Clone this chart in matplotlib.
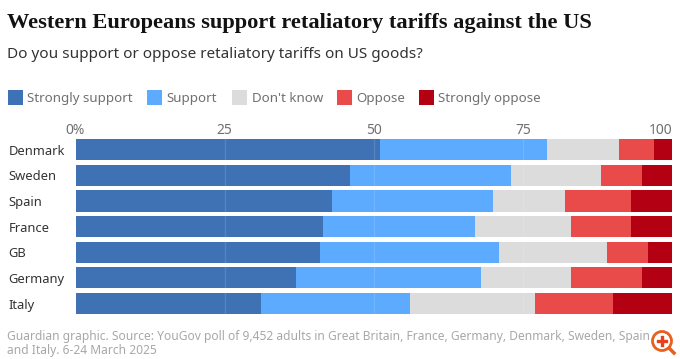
import matplotlib
matplotlib.use("Agg")
import numpy as np
import matplotlib.pyplot as plt
from matplotlib.patches import Rectangle, Ellipse
from matplotlib.lines import Line2D

paises = ["Denmark", "Sweden", "Spain", "France", "GB", "Germany", "Italy"]
strongly_support = [51, 46, 43, 41.5, 41, 37, 31]
support = [28, 27, 27, 25.5, 30, 31, 25]
dont_know = [12, 15, 12, 16, 18, 15, 21]
oppose = [6, 7, 11, 10, 7, 12, 13]
strongly_oppose = [3, 5, 7, 7, 4, 5, 10]

categorias = ["Strongly support", "Support", "Don't know", "Oppose", "Strongly oppose"]
colores = ["#3f72b5", "#5cabff", "#dcdcdc", "#e94b4b", "#b30012"]
ticks = [0, 25, 50, 75, 100]
tick_labels = ["0%", "25", "50", "75", "100"]

W, H = 680, 359
SANS = "Noto Sans"
plt.rcParams["font.family"] = SANS

fig = plt.figure(figsize=(W / 100, H / 100), dpi=100, facecolor="white")

def fx(x):
    return x / W

def fy(y):
    return 1 - y / H

# eje de las barras, ubicado en pixeles
ax = fig.add_axes([fx(75.5), fy(319), (672.3 - 75.5) / W, (319 - 137) / H])
ax.set_xlim(0, 100)
y = np.arange(len(paises))
ax.set_ylim(len(paises) - 1 + 0.605, -0.5)

series = [strongly_support, support, dont_know, oppose, strongly_oppose]
izq = np.zeros(len(paises))
for valores, color in zip(series, colores):
    ax.barh(y, valores, left=izq, height=0.825, color=color, linewidth=0, zorder=2)
    izq = izq + np.array(valores)

for t in ticks[1:-1]:
    ax.axvline(t, color="white", alpha=0.13, linewidth=1, zorder=3)

for s in ax.spines.values():
    s.set_visible(False)
ax.set_xticks(ticks)
ax.set_xticklabels(tick_labels)
ax.xaxis.tick_top()
ax.tick_params(axis="x", length=0, pad=-1, labelsize=10, labelcolor="#707070")
ax.set_yticks(y)
ax.set_yticklabels(paises)
ax.tick_params(axis="y", length=0, pad=0, labelsize=9.3, labelcolor="#333333")
for lab in ax.get_yticklabels():
    lab.set_horizontalalignment("left")
    lab.set_verticalalignment("center_baseline")
    lab.set_x(-67 / (672.3 - 75.5))
labs = ax.get_xticklabels()
labs[-1].set_horizontalalignment("right")

# titulo y subtitulo
fig.text(fx(7), fy(28), "Western Europeans support retaliatory tariffs against the US",
         family="Liberation Serif", fontweight="bold", fontsize=16.1, color="#121212")
fig.text(fx(7), fy(58), "Do you support or oppose retaliatory tariffs on US goods?",
         fontsize=11, color="#333333")

# leyenda
x_caja = [7.5, 147, 232, 337, 419]
for xc, cat, color in zip(x_caja, categorias, colores):
    fig.add_artist(Rectangle((fx(xc), fy(104.5)), 15 / W, 15 / H, color=color,
                             linewidth=0, transform=fig.transFigure))
    fig.text(fx(xc + 19.5), fy(102), cat, fontsize=9.6, color="#707070", va="baseline")

# fuente
fig.text(fx(7), fy(340), "Guardian graphic. Source: YouGov poll of 9,452 adults in Great Britain, France, Germany, Denmark, Sweden, Spain",
         fontsize=8.65, color="#a8a8a8")
fig.text(fx(7), fy(354), "and Italy. 6-24 March 2025", fontsize=8.65, color="#a8a8a8")

# lupa de la esquina
naranja = "#e8601c"
fig.add_artist(Ellipse((fx(662), fy(341)), 19 / W, 19 / H, facecolor="white", edgecolor=naranja,
                       linewidth=2, transform=fig.transFigure))
fig.add_artist(Line2D([fx(669), fx(674)], [fy(348), fy(353)], color=naranja, linewidth=2.5))
fig.add_artist(Line2D([fx(658), fx(666)], [fy(341), fy(341)], color="#e8401c", linewidth=2.4))
fig.add_artist(Line2D([fx(662), fx(662)], [fy(337), fy(345)], color="#e8401c", linewidth=2.4))

fig.savefig("out.png", dpi=100)
